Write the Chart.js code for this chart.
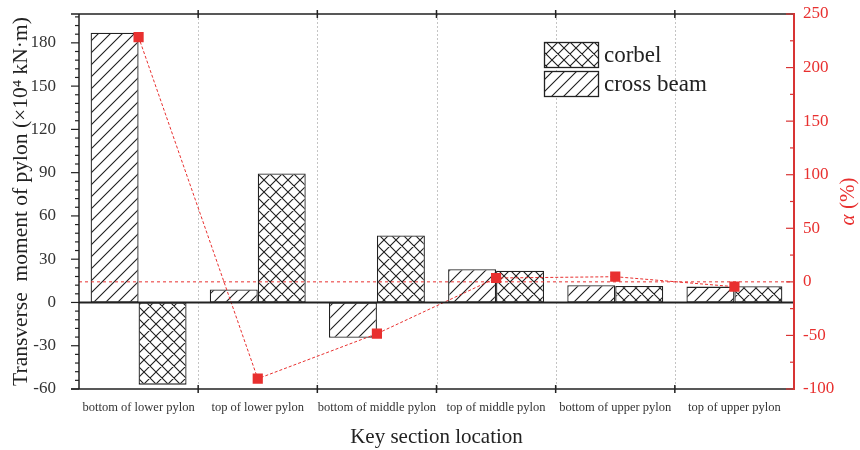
<!DOCTYPE html>
<html>
<head>
<meta charset="utf-8">
<script src="https://cdn.jsdelivr.net/npm/chart.js@4/dist/chart.umd.min.js"></script>
<style>
  html, body { margin: 0; padding: 0; background: #fff; }
  #wrap { width: 860px; height: 450px; position: relative; }
</style>
</head>
<body>
<div id="wrap"><canvas id="c" width="860" height="450"></canvas></div>
<script>
// Key section locations along the pylon
const sections = [
  'bottom of lower pylon', 'top of lower pylon', 'bottom of middle pylon',
  'top of middle pylon', 'bottom of upper pylon', 'top of upper pylon'
];
// Transverse moment of pylon (×10^4 kN·m)
const crossBeam = [187, 9, -24.5, 23, 12, 11];
const corbel = [-57, 89.5, 46.5, 22, 11.5, 11.3];
// Ratio α (%)
const alpha = [228.5, -90.4, -48.4, 3.6, 4.8, -4.5];

// Axis tick values
const leftTicks = [-60, -30, 0, 30, 60, 90, 120, 150, 180];
const rightTicks = [-100, -50, 0, 50, 100, 150, 200, 250];

const SERIF = '"Liberation Serif", "Times New Roman", serif';
const RED = '#e8302f';
const RED_AXIS = '#d83434';
const INK = '#222';

function makePattern(cross) {
  const s = 12;
  const t = document.createElement('canvas');
  t.width = s; t.height = s;
  const g = t.getContext('2d');
  g.fillStyle = '#fff';
  g.fillRect(0, 0, s, s);
  g.strokeStyle = '#1e1e1e';
  g.lineWidth = 1.1;
  g.beginPath();
  g.moveTo(-1, s + 1); g.lineTo(s + 1, -1);
  g.moveTo(-1, 1); g.lineTo(1, -1);
  g.moveTo(s - 1, s + 1); g.lineTo(s + 1, s - 1);
  if (cross) {
    g.moveTo(-1, -1); g.lineTo(s + 1, s + 1);
    g.moveTo(-1, s - 1); g.lineTo(1, s + 1);
    g.moveTo(s - 1, -1); g.lineTo(s + 1, 1);
  }
  g.stroke();
  return g.createPattern(t, 'repeat');
}
const hatchDiag = makePattern(false);
const hatchCross = makePattern(true);

function noEdgePadding(scale) {
  scale.paddingTop = 0;
  scale.paddingBottom = 0;
  scale.paddingLeft = 0;
  scale.paddingRight = 0;
}

// Frame, ticks, reference lines, legend and right-axis title
const framePlugin = {
  id: 'frame',
  beforeDatasetsDraw(chart) {
    const { ctx, chartArea: a, scales: { x } } = chart;
    ctx.save();
    ctx.strokeStyle = '#c4c4c4';
    ctx.lineWidth = 1;
    ctx.setLineDash([2, 2]);
    for (let i = 1; i < sections.length; i++) {
      const px = Math.round((x.getPixelForValue(i - 1) + x.getPixelForValue(i)) / 2) + 0.5;
      ctx.beginPath(); ctx.moveTo(px, a.top); ctx.lineTo(px, a.bottom); ctx.stroke();
    }
    ctx.restore();
  },
  afterDatasetsDraw(chart) {
    const { ctx, chartArea: a, scales: { y, y1 } } = chart;
    ctx.save();
    // α = 0 reference line
    const y0r = y1.getPixelForValue(0);
    ctx.strokeStyle = RED;
    ctx.lineWidth = 1;
    ctx.setLineDash([3, 3]);
    ctx.beginPath(); ctx.moveTo(a.left, y0r); ctx.lineTo(a.right, y0r); ctx.stroke();
    ctx.setLineDash([]);
    // zero line of moment axis
    const y0 = y.getPixelForValue(0);
    ctx.strokeStyle = INK;
    ctx.lineWidth = 2;
    ctx.beginPath(); ctx.moveTo(a.left, y0); ctx.lineTo(a.right, y0); ctx.stroke();
    ctx.restore();
  },
  afterDraw(chart) {
    const { ctx, chartArea: a, scales: { x, y, y1 } } = chart;
    ctx.save();
    ctx.lineWidth = 1.5;
    ctx.strokeStyle = INK;
    // top and bottom frame
    ctx.beginPath();
    ctx.moveTo(a.left - 8, a.top); ctx.lineTo(a.right, a.top);
    ctx.moveTo(a.left - 8, a.bottom); ctx.lineTo(a.right, a.bottom);
    ctx.moveTo(a.left, a.top); ctx.lineTo(a.left, a.bottom);
    ctx.stroke();
    // category boundary ticks
    for (let i = 1; i < sections.length; i++) {
      const px = (x.getPixelForValue(i - 1) + x.getPixelForValue(i)) / 2;
      ctx.beginPath();
      ctx.moveTo(px, a.top - 4); ctx.lineTo(px, a.top + 4);
      ctx.moveTo(px, a.bottom - 4); ctx.lineTo(px, a.bottom + 4);
      ctx.stroke();
    }
    // left ticks: major and minor
    ctx.lineWidth = 1.2;
    for (let v = -60; v <= 198; v += 6) {
      const py = y.getPixelForValue(v);
      const len = (v % 30 === 0) ? 8 : 4;
      ctx.beginPath(); ctx.moveTo(a.left - len, py); ctx.lineTo(a.left, py); ctx.stroke();
    }
    // right axis in red
    ctx.strokeStyle = RED_AXIS;
    ctx.lineWidth = 2;
    ctx.beginPath(); ctx.moveTo(a.right, a.top - 1); ctx.lineTo(a.right, a.bottom + 1); ctx.stroke();
    ctx.lineWidth = 1.2;
    for (let v = -100; v <= 250; v += 25) {
      const py = y1.getPixelForValue(v);
      const len = (v % 50 === 0) ? 8 : 4;
      ctx.beginPath(); ctx.moveTo(a.right - len, py); ctx.lineTo(a.right, py); ctx.stroke();
    }
    // right-axis title: α (%)
    ctx.fillStyle = RED;
    ctx.translate(848, (a.top + a.bottom) / 2);
    ctx.rotate(-Math.PI / 2);
    ctx.textBaseline = 'middle';
    const fItal = 'italic 21px ' + SERIF;
    const fReg = '21px ' + SERIF;
    ctx.font = fItal; const wA = ctx.measureText('α').width;
    ctx.font = fReg; const wB = ctx.measureText(' (%)').width;
    const sx = -(wA + wB) / 2;
    ctx.font = fItal; ctx.textAlign = 'left'; ctx.fillText('α', sx, 0);
    ctx.font = fReg; ctx.fillText(' (%)', sx + wA, 0);
    ctx.restore();

    // legend
    ctx.save();
    const items = [
      { label: chart.data.datasets[1].label, fill: chart.data.datasets[1].backgroundColor },
      { label: chart.data.datasets[0].label, fill: chart.data.datasets[0].backgroundColor }
    ];
    const bx = 544, bw = 54, bh = 25;
    const bys = [42, 71];
    ctx.font = '23px ' + SERIF;
    ctx.textBaseline = 'middle';
    ctx.textAlign = 'left';
    items.forEach((it, i) => {
      const by = bys[i];
      ctx.fillStyle = it.fill;
      ctx.fillRect(bx, by, bw, bh);
      ctx.strokeStyle = INK;
      ctx.lineWidth = 1.3;
      ctx.strokeRect(bx + 0.5, by + 0.5, bw, bh);
      ctx.fillStyle = INK;
      ctx.fillText(it.label, bx + bw + 6, by + bh / 2 + 1);
    });
    ctx.restore();
  }
};

new Chart(document.getElementById('c'), {
  type: 'bar',
  data: {
    labels: sections,
    datasets: [
      {
        label: 'cross beam',
        data: crossBeam,
        backgroundColor: hatchDiag,
        borderColor: INK,
        borderWidth: 1.3,
        borderSkipped: false,
        yAxisID: 'y',
        order: 2,
        categoryPercentage: 0.805,
        barPercentage: 1.0
      },
      {
        label: 'corbel',
        data: corbel,
        backgroundColor: hatchCross,
        borderColor: INK,
        borderWidth: 1.3,
        borderSkipped: false,
        yAxisID: 'y',
        order: 2,
        categoryPercentage: 0.805,
        barPercentage: 1.0
      },
      {
        type: 'line',
        label: 'α',
        data: alpha,
        yAxisID: 'y1',
        borderColor: RED,
        borderWidth: 1,
        borderDash: [3, 2],
        pointStyle: 'rect',
        pointRadius: 7.2,
        pointBackgroundColor: RED,
        pointBorderColor: RED,
        pointBorderWidth: 0,
        tension: 0,
        order: 0
      }
    ]
  },
  options: {
    responsive: false,
    animation: false,
    devicePixelRatio: 1,
    layout: { padding: { top: 14, left: 0, right: 0, bottom: 0 } },
    plugins: {
      legend: { display: false },
      tooltip: { enabled: false }
    },
    scales: {
      x: {
        offset: true,
        grid: { display: false, drawTicks: false },
        border: { display: false },
        ticks: {
          color: '#333',
          font: { family: SERIF, size: 12.5 },
          padding: 11,
          maxRotation: 0,
          autoSkip: false
        },
        title: {
          display: true,
          text: 'Key section location',
          color: '#222',
          font: { family: SERIF, size: 21 },
          padding: { top: 0, bottom: 0 }
        },
        afterFit(scale) { scale.height = 61; noEdgePadding(scale); }
      },
      y: {
        position: 'left',
        min: -60,
        max: 200,
        grid: { display: false, drawTicks: false },
        border: { display: false },
        ticks: {
          stepSize: 30,
          color: '#333',
          font: { family: SERIF, size: 17 },
          padding: 23
        },
        afterBuildTicks(scale) {
          scale.ticks = leftTicks.map(v => ({ value: v }));
        },
        title: {
          display: true,
          text: 'Transverse  moment of pylon (\u00d710\u2074 kN\u00b7m)',
          color: '#222',
          font: { family: SERIF, size: 21.5 },
          padding: { top: 8, bottom: 0 }
        },
        afterFit(scale) { scale.width = 79; noEdgePadding(scale); }
      },
      y1: {
        position: 'right',
        min: -100,
        max: 250,
        grid: { display: false, drawTicks: false },
        border: { display: false },
        ticks: {
          stepSize: 50,
          color: RED,
          font: { family: SERIF, size: 17 },
          padding: 9
        },
        afterBuildTicks(scale) {
          scale.ticks = rightTicks.map(v => ({ value: v }));
        },
        afterFit(scale) { scale.width = 66; noEdgePadding(scale); }
      }
    }
  },
  plugins: [framePlugin]
});
</script>
</body>
</html>
